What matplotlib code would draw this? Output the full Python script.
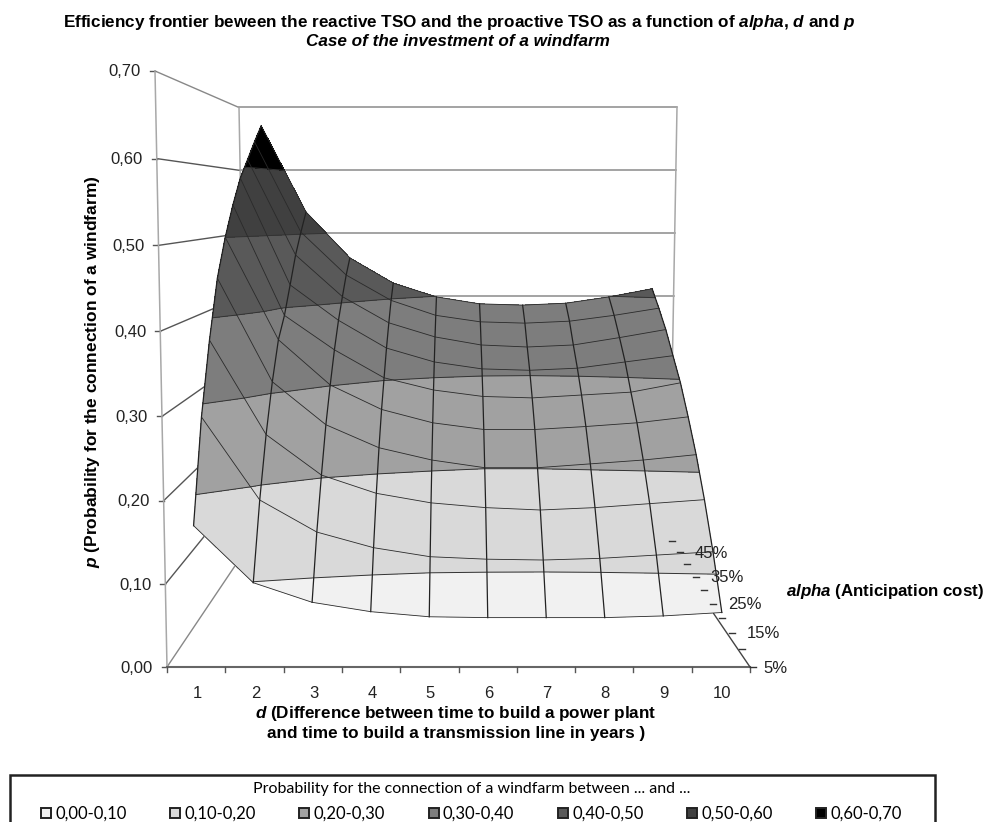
import matplotlib
matplotlib.use("Agg")
import matplotlib.pyplot as plt
from matplotlib.patches import Patch, Rectangle
import numpy as np

plt.rcParams['font.family'] = ['Liberation Sans', 'DejaVu Sans']
plt.rcParams['mathtext.fontset'] = 'custom'
plt.rcParams['mathtext.rm'] = 'Liberation Sans:bold'
plt.rcParams['mathtext.bf'] = 'Liberation Sans:bold'
plt.rcParams['mathtext.it'] = 'Liberation Sans:italic:bold'
plt.rcParams['mathtext.bfit'] = 'Liberation Sans:italic:bold'

d_values = [1, 2, 3, 4, 5, 6, 7, 8, 9, 10]
alpha_values = [5, 10, 15, 20, 25, 30, 35, 40, 45, 50]
alpha_labels = {5: "5%", 15: "15%", 25: "25%", 35: "35%", 45: "45%"}
p_ticks = [0.0, 0.1, 0.2, 0.3, 0.4, 0.5, 0.6, 0.7]
p_tick_labels = ["0,00", "0,10", "0,20", "0,30", "0,40", "0,50", "0,60", "0,70"]

# one row per alpha, one column per d
p_5 = [.166, .099, .076, .065, .059, .058, .058, .058, .060, .064]
p_10 = [.285, .184, .145, .126, .115, .112, .111, .113, .117, .121]
p_15 = [.373, .254, .203, .180, .168, .162, .159, .162, .167, .172]
p_20 = [.448, .313, .257, .227, .211, .201, .201, .206, .211, .218]
p_25 = [.500, .362, .301, .268, .250, .241, .241, .245, .250, .258]
p_30 = [.544, .390, .342, .303, .286, .277, .275, .279, .283, .296]
p_35 = [.583, .429, .378, .338, .318, .308, .306, .309, .318, .327]
p_40 = [.612, .470, .408, .369, .348, .336, .333, .336, .347, .359]
p_45 = [.642, .503, .437, .398, .375, .365, .363, .366, .375, .386]
p_50 = [.671, .534, .461, .421, .399, .388, .386, .389, .399, .412]
p_grid = np.array([p_5, p_10, p_15, p_20, p_25, p_30, p_35, p_40, p_45, p_50])

band_levels = [0, .1, .2, .3, .4, .5, .6, .7]
band_colors = ["#f1f1f1", "#d9d9d9", "#a1a1a1", "#7d7d7d", "#595959", "#404040", "#000000"]
band_names = ["0,00-0,10", "0,10-0,20", "0,20-0,30", "0,30-0,40", "0,40-0,50", "0,50-0,60", "0,60-0,70"]


def project(u, t, p):
    # u: 0-1 along d, t: 0-1 along alpha (front to back), p: probability
    # excel style perspective box, corners in pixels
    u, t, p = np.asarray(u, float), np.asarray(t, float), np.asarray(p, float)
    s = t / (t + (1 - t) * 0.82)
    h = p / 0.7
    fl = 167 - 12 * h
    fr = 750 + 12 * h
    bl = 247 - 8 * h
    br = 669 + 8 * h
    fy = 667 - 596 * h
    by = 548 - 440.5 * h
    left = fl + (bl - fl) * s
    right = fr + (br - fr) * s
    return left + (right - left) * u, fy + (by - fy) * s


fig = plt.figure(figsize=(9.85, 8.22), dpi=100)
ax = fig.add_axes([0, 0, 1, 1])
ax.set_xlim(0, 985)
ax.set_ylim(822, 0)
ax.axis("off")

# walls
wall = "#a8a8a8"
for n, p in enumerate(p_ticks):
    x, y = project([0, 0, 1], [0, 1, 1], [p, p, p])
    h = p / 0.7
    y[0] += 20 * h * (1 - h)  # the front ticks are not quite evenly spaced
    ax.plot(x[1:], y[1:], color="#8a8a8a" if p > 0 else wall, lw=1.1, zorder=1)
    ax.plot(x[:2], y[:2], color="#555555" if 0 < p < 0.7 else "#888888", lw=1.0, zorder=1)
    ax.plot([x[0] - 5, x[0]], [y[0], y[0]], color="#555555", lw=1.0, zorder=1)
    ax.text(x[0] - 14, y[0] + 1, p_tick_labels[n], ha="right", va="center", fontsize=12, color="#222222")
for u, t in [(0, 0), (0, 1), (1, 1)]:
    x, y = project([u, u], [t, t], [0, 0.7])
    ax.plot(x, y, color=wall, lw=1.1, zorder=1)

# floor axes
x, y = project([0, 1], [0, 0], [0, 0])
ax.plot(x, y, color="#666666", lw=1.5, zorder=1)
x, y = project([1, 1], [0, 1], [0, 0])
ax.plot(x, y, color="#444444", lw=1.0, zorder=1)
for i in range(11):
    x, y = project(i / 10, 0, 0)
    ax.plot([x, x], [y, y + 5], color="#555555", lw=1.0, zorder=1)
for d in d_values:
    x, y = project((d - 0.5) / 10, 0, 0)
    ax.text(x + 1, y + 26, str(d), ha="center", va="center", fontsize=12, color="#222222")

for i, a in enumerate(alpha_values):
    t = i / 9
    x, y = project(1, t, 0)
    y = y - 7 * t ** 0.5  # tick marks sit a little above the floor edge
    ax.plot([x, x + 6], [y, y], color="#333333", lw=1.0, zorder=6)
    if a in alpha_labels:
        ax.text(x + (13 if i == 0 else 18), y + 1, alpha_labels[a], ha="left", va="center",
                fontsize=12, color="#222222", zorder=7)

# surface, bands first and the mesh on top
uu, tt = np.meshgrid((np.array(d_values) - 0.5) / 10, np.arange(len(alpha_values)) / 9)
X, Y = project(uu, tt, p_grid)
ax.contourf(X, Y, p_grid, levels=band_levels, colors=band_colors, zorder=3)
ax.contour(X, Y, p_grid, levels=band_levels[1:-1], colors="#333333", linewidths=0.7, zorder=4)
ax.plot(X, Y, color="#222222", lw=0.9, zorder=5)
ax.plot(X.T, Y.T, color="#2a2a2a", lw=0.6, zorder=5)

# texts
ax.text(459, 22, r"Efficiency frontier beween the reactive TSO and the proactive TSO as a function of $\mathit{alpha}$, $\mathit{d}$ and $\mathit{p}$",
        ha="center", va="center", fontsize=12.3, fontweight="bold")
ax.text(458, 42, "Case of the investment of a windfarm", ha="center", va="center",
        fontsize=12.3, fontweight="bold", fontstyle="italic")
ax.text(93, 372, r"$\mathit{p}$ (Probability for the connection of a windfarm)", rotation=90,
        ha="center", va="center", fontsize=12.5, fontweight="bold")
ax.text(456, 713, r"$\mathit{d}$ (Difference between time to build a power plant", ha="center", va="center",
        fontsize=12.3, fontweight="bold")
ax.text(456, 733, "and time to build a transmission line in years )", ha="center", va="center",
        fontsize=12.3, fontweight="bold")
ax.text(786, 591, r"$\mathit{alpha}$ (Anticipation cost)", ha="left", va="center", fontsize=12.2, fontweight="bold")

# legend box runs off the bottom of the picture
ax.add_patch(Rectangle((10, 775), 925, 60, facecolor="white", edgecolor="#222222", lw=1.8, zorder=8))
handles = [Patch(facecolor=c, edgecolor="#222222", lw=1.4) for c in band_colors]
leg = ax.legend(handles, band_names, ncol=7, mode="expand", title="Probability for the connection of a windfarm between ... and ...",
                bbox_to_anchor=(41 / 985, 1 - 782 / 822, 861 / 985, 0), bbox_transform=fig.transFigure,
                loc="upper left", borderaxespad=0, borderpad=0, frameon=False,
                prop={"family": "Lato", "size": 12}, handlelength=0.6, handleheight=0.6, handletextpad=0.25)
leg.get_title().set_fontfamily("Lato")
leg.get_title().set_fontsize(11.5)
leg._legend_box.sep = 7
leg.set_zorder(9)

fig.savefig("out.png", dpi=100)
